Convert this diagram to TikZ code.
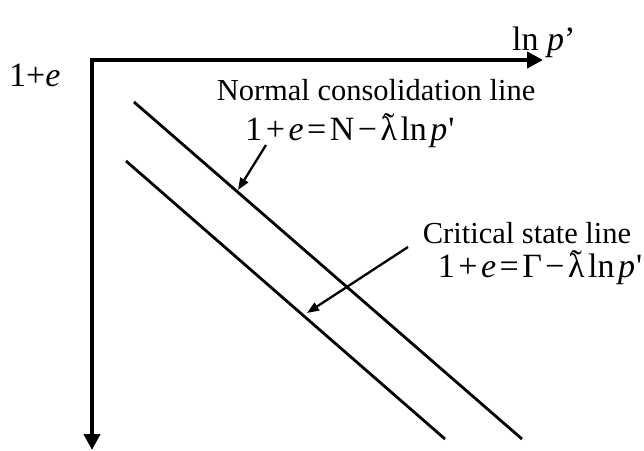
\documentclass[tikz,border=0pt]{standalone}
\usepackage{fontspec}
\setmainfont{Liberation Serif}
\usetikzlibrary{arrows.meta}
\newcommand\lamtil{\ooalign{λ\cr\hidewidth\raisebox{0.1em}{˜}\hidewidth\cr}}
\newcommand\sq{\textquotesingle}
\newcommand\gap{\kern3.5pt}
\begin{document}
\begin{tikzpicture}[x=1pt,y=-1pt,
  lbl/.style={font=\fontsize{30.5}{34}\selectfont, inner sep=0pt, text depth=0pt},
  eqlbl/.style={font=\fontsize{34}{38}\selectfont, inner sep=0pt},
  axis/.style={line width=4pt, {Triangle[length=16pt,width=16pt]}-{Triangle[length=16pt,width=16pt]}},
  stateline/.style={line width=2.8pt},
  pointer/.style={line width=2.3pt, -{Triangle[length=12pt,width=9pt]}}]
\useasboundingbox (0,0) rectangle (644,450);
% axes
\coordinate (htip) at (543,60);
\coordinate (corner) at (92,60);
\coordinate (vtip) at (92,450);
\draw[axis] (htip) -- (corner) -- (vtip);
\node[eqlbl, anchor=base west] (xl) at (512,50) {ln \textit{p}’};
\node[eqlbl, anchor=base west] (yl) at (9,86) {1+\textit{e}};
% lines
\coordinate (n1) at (134,102);
\coordinate (n2) at (522,439);
\coordinate (c1) at (126,161);
\coordinate (c2) at (445,439);
\draw[stateline] (n1) -- (n2);
\draw[stateline] (c1) -- (c2);
% labels
\node[lbl, anchor=base] (ncl) at (376,100) {Normal consolidation line};
\node[eqlbl, anchor=base] (ncleq) at (350,140) {1\gap+\gap\textit{e}\gap=\gap N\gap−\gap\lamtil\gap ln\gap\textit{p}\kern1pt\sq};
\node[lbl, anchor=base] (csl) at (527,243) {Critical state line};
\node[eqlbl, anchor=base] (csleq) at (540,277) {1\gap+\gap\textit{e}\gap=\gap Γ\gap−\gap\lamtil\gap ln\gap\textit{p}\kern1pt\sq};
% pointers
\coordinate (nfrom) at (266,145);
\coordinate (nto) at (238,190);
\coordinate (cfrom) at (408,247);
\coordinate (cto) at (307,313);
\draw[pointer] (nfrom) -- (nto);
\draw[pointer] (cfrom) -- (cto);
\end{tikzpicture}
\end{document}
